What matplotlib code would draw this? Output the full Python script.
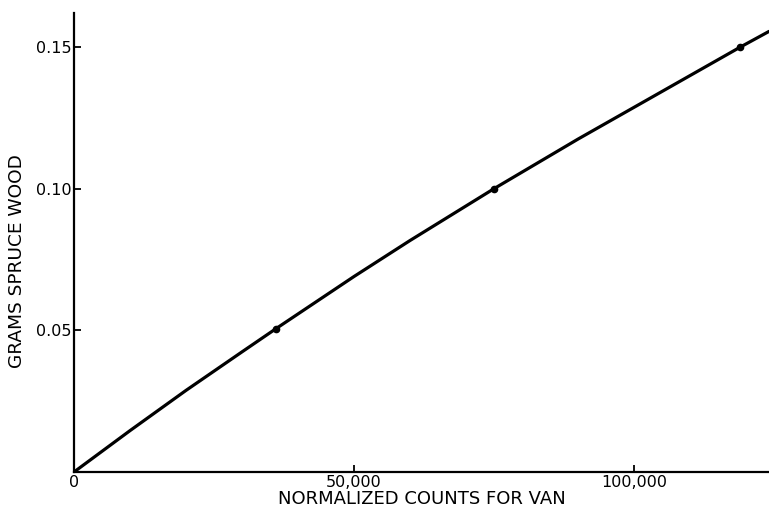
import matplotlib
matplotlib.use("Agg")
import matplotlib.pyplot as plt

# Curve (normalized counts, grams)
curve_x = [0, 10000, 20000, 30000, 36000, 50000, 60000, 75000, 90000, 119000, 124100]
curve_y = [0.0, 0.0146, 0.0288, 0.0424, 0.0505, 0.0690, 0.0817, 0.100, 0.1175, 0.150, 0.1555]

# Measured points (dots)
point_x = [36000, 75000, 119000]
point_y = [0.0505, 0.100, 0.150]

x_ticks = [0, 50000, 100000]
x_tick_labels = ["0", "50,000", "100,000"]
y_ticks = [0.05, 0.10, 0.15]
y_tick_labels = ["0.05", "0.10", "0.15"]

plt.rcParams['font.family'] = ['DejaVu Sans']

fig = plt.figure(figsize=(7.69, 5.12), dpi=100)
ax = fig.add_axes([74 / 769, 40 / 512, 1 - 74 / 769, (472 - 13) / 512])

ax.plot(curve_x, curve_y, color='black', lw=2.3, solid_capstyle='round',
        solid_joinstyle='round')
ax.plot(point_x, point_y, 'o', color='black', ms=4.5)

ax.set_xlim(0, 124100)
ax.set_ylim(0, 0.162)

ax.spines['top'].set_visible(False)
ax.spines['right'].set_visible(False)
for s in ['left', 'bottom']:
    ax.spines[s].set_linewidth(1.6)

ax.set_xticks(x_ticks)
ax.set_xticklabels(x_tick_labels)
ax.set_yticks(y_ticks)
ax.set_yticklabels(y_tick_labels)
ax.tick_params(direction='in', length=5, width=1.3)
ax.tick_params(axis='x', labelsize=11.5, pad=2)
ax.tick_params(axis='y', labelsize=11.5, pad=2)

ax.set_xlabel("NORMALIZED COUNTS FOR VAN", fontsize=13, labelpad=0)
ax.set_ylabel("GRAMS SPRUCE WOOD", fontsize=13.3)
ax.yaxis.set_label_coords((26 - 74) / (769 - 74), (472 - 261) / (472 - 13))

fig.savefig("out.png", dpi=100)
